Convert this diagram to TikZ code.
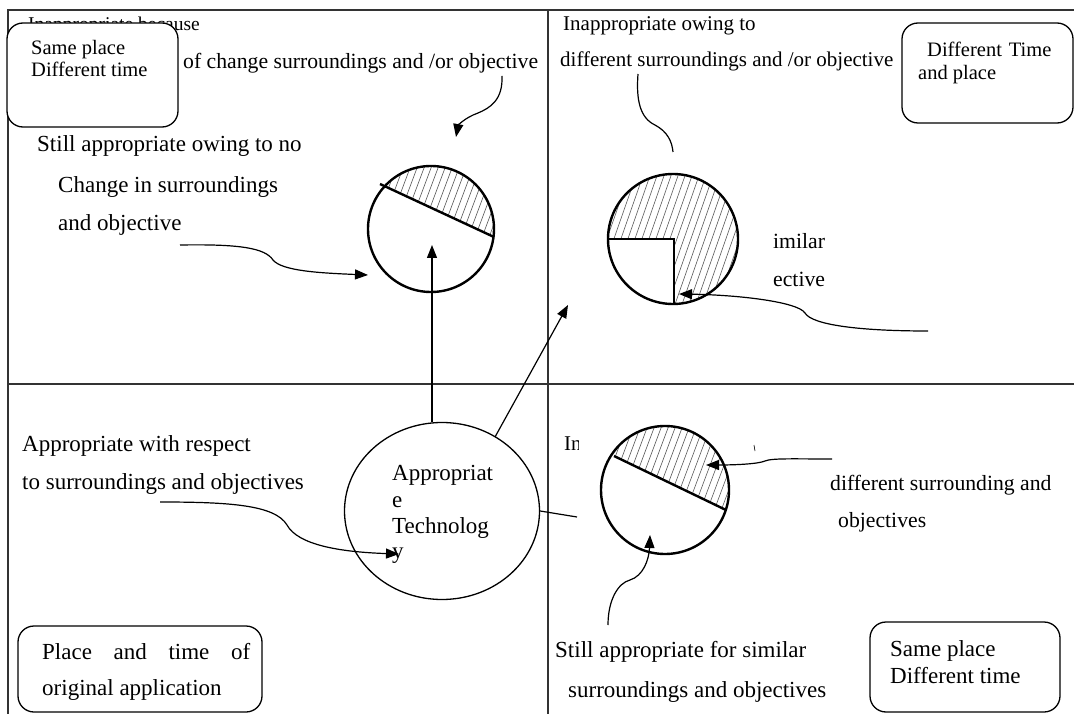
\documentclass[tikz,border=0pt]{standalone}
\usepackage{fontspec}
\setmainfont{Liberation Serif}
\usetikzlibrary{arrows.meta,shapes.geometric}
\begin{document}
\begin{tikzpicture}[x=1pt,y=-1pt,
  lbl/.style={anchor=base west, inner sep=0pt, font=\fontsize{23}{27}\selectfont},
  smlbl/.style={anchor=base west, inner sep=0pt, font=\fontsize{21}{25}\selectfont},
  midlbl/.style={anchor=base west, inner sep=0pt, font=\fontsize{21.7}{26}\selectfont},
  boxlbl/.style={anchor=base west, inner sep=0pt, font=\fontsize{20.5}{24}\selectfont},
  frameline/.style={line width=1.3pt, draw=black!80},
  rbox/.style={draw, line width=1.3pt, rounded corners=16pt, fill=white},
  ring/.style={draw, circle, line width=2.4pt, inner sep=0pt},
  hatch/.style={line width=0.6pt, draw=black!65},
  arr/.style={line width=1.2pt, -{Triangle[width=10pt,length=13pt]}},
  conn/.style={line width=1.2pt}]
\useasboundingbox (0,0) rectangle (1074,714);
\fill[white] (0,0) rectangle (1074,714);
% frame
\draw[frameline] (8,714) -- (8,10) -- (1074,10);
\draw[frameline] (548,10) -- (548,714);
\draw[frameline] (8,384) -- (1074,384);

% ---------- top-left quadrant
\node[anchor=base west, inner sep=0pt, font=\fontsize{19.5}{23}\selectfont] (inapb) at (28,31) {Inappropriate because};
\draw[rbox] (7,23) rectangle (178,127);
\node[boxlbl] (tl1) at (31,55) {Same place};
\node[boxlbl] (tl2) at (31,77) {Different time};
\node[midlbl] (ofch) at (183,69) {of change surroundings and /or objective};
\node[lbl] (still1) at (37,152) {Still appropriate owing to no};
\node[lbl] (still2) at (58,193) {Change in surroundings};
\node[lbl] (still3) at (58,231) {and objective};

% circle 1 hatch
\begin{scope}
  \clip (431,229) circle[radius=63];
  \clip (340,165.4) -- (520,249) -- (520,140) -- (340,140) -- cycle;
  \foreach \k in {0,...,36} \draw[hatch] (290+7*\k,320) -- ++(75,-200);
\end{scope}
\node[ring, minimum size=126pt] (c1) at (431,229) {};
\draw[line width=2.4pt] (380,184) -- (494,237);

% ---------- top-right quadrant
\node[smlbl] (inapo) at (563,31) {Inappropriate owing to};
\node[smlbl] (diffs) at (560,67) {different surroundings and /or objective};
\draw[rbox] (902,23) rectangle (1073,123);
\node[boxlbl] (tr1) at (927,57) {Different\,\,Time};
\node[boxlbl] (tr2) at (918,80) {and place};

\begin{scope}
  \clip (673,239) circle[radius=65];
  \foreach \k in {0,...,36} \draw[hatch] (540+7*\k,330) -- ++(70,-200);
  \fill[white] (600,239) rectangle (674,320);
\end{scope}
\node[ring, minimum size=130pt] (c2) at (673,239) {};
\draw[line width=2.4pt] (608,239) -- (674,239) -- (674,304);
\node[midlbl] (imil) at (773,249) {imilar};
\node[midlbl] (ect) at (773,287) {ective};

% ---------- bottom-left quadrant
\node[lbl] (awr1) at (22,451) {Appropriate with respect};
\node[lbl] (awr2) at (22,489) {to surroundings and objectives};
\node[draw, ellipse, line width=1.3pt, minimum width=195pt, minimum height=177pt, inner sep=0pt] (tech) at (442,511) {};
\node[lbl] (at1) at (392,480) {Appropriat};
\node[lbl] (at2) at (392,507) {e};
\node[lbl] (at3) at (392,533) {Technolog};
\node[lbl] (at4) at (392,558) {y};
\draw[rbox] (18,626) rectangle (262,712);
\node[lbl] (pt1) at (42,659) {\makebox[208pt][s]{Place and time of}};
\node[lbl] (pt2) at (42,695) {original application};

% ---------- bottom-right quadrant
\begin{scope}
  \clip (548,420) rectangle (578,470);
  \node[smlbl] (inap2) at (564,450) {Inappropriate owing to};
\end{scope}
\draw[line width=0.6pt] (754,445) -- (755,451);
\begin{scope}
  \clip (665,490) circle[radius=64];
  \clip (560,430.4) -- (780,536.4) -- (780,400) -- (560,400) -- cycle;
  \foreach \k in {0,...,36} \draw[hatch] (520+7*\k,580) -- ++(75,-200);
\end{scope}
\node[ring, minimum size=128pt] (c3) at (665,490) {};
\draw[line width=2.4pt] (614,456) -- (726,510);
\node[midlbl] (dsa1) at (830,490) {different surrounding and};
\node[midlbl] (dsa2) at (838,527) {objectives};
\node[lbl] (sa1) at (555,657) {Still appropriate for similar};
\node[lbl] (sa2) at (568,697) {surroundings and objectives};
\draw[rbox] (870,622) rectangle (1060,712);
\node[lbl] (br1) at (890,656) {Same place};
\node[lbl] (br2) at (890,683) {Different time};

% ---------- connectors
\coordinate (a1s) at (502,76);
\coordinate (a1e) at (456,137);
\draw[arr] (a1s) .. controls (503,100) and (490,108) .. (478,113) .. controls (464,118) and (458,126) .. (a1e);

\coordinate (a2s) at (180,245);
\coordinate (a2e) at (368,275);
\draw[arr] (a2s) .. controls (240,244) and (265,248) .. (273,260) .. controls (282,271) and (320,273) .. (a2e);

\coordinate (a3s) at (638,74);
\coordinate (a3e) at (673,152);
\draw[conn] (a3s) .. controls (636,100) and (640,118) .. (655,125) .. controls (668,132) and (672,142) .. (a3e);

\coordinate (a4s) at (928,331);
\coordinate (a4e) at (679,294);
\draw[arr] (a4s) .. controls (860,331) and (812,325) .. (805,313) .. controls (798,302) and (740,295) .. (a4e);

\coordinate (a5e) at (432,245);
\draw[arr] (tech.north -| a5e) -- (a5e);
\coordinate (a6s) at (495,437);
\coordinate (a6e) at (568,305);
\draw[arr] (a6s) -- (a6e);

\coordinate (a7s) at (160,502);
\coordinate (a7e) at (399,554);
\draw[arr] (a7s) .. controls (230,502) and (275,505) .. (287,525) .. controls (298,545) and (340,552) .. (a7e);

\coordinate (a8e) at (577,517);
\draw[conn] (tech.east) -- (a8e);

\coordinate (a9s) at (832,459);
\coordinate (a9e) at (706,465);
\draw[arr] (a9s) .. controls (795,459) and (772,458) .. (765,461) .. controls (758,464) and (735,465) .. (a9e);

\coordinate (a10s) at (608,625);
\coordinate (a10e) at (650,535);
\draw[arr] (a10s) .. controls (608,600) and (618,583) .. (630,580) .. controls (643,576) and (649,560) .. (a10e);
\end{tikzpicture}
\end{document}
